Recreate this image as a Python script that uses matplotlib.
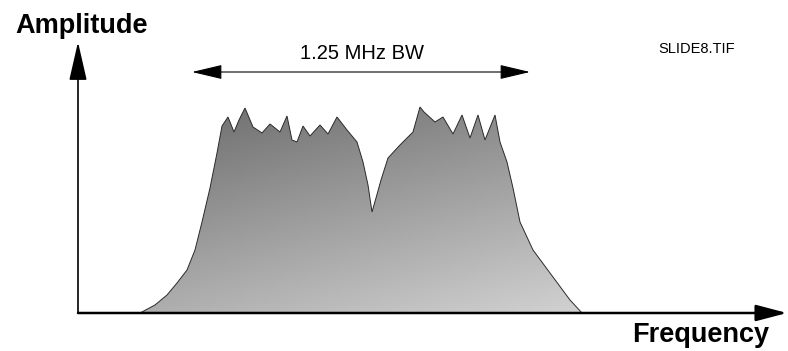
import numpy as np
import matplotlib.pyplot as plt
from matplotlib.patches import FancyArrowPatch

# spectrum outline
# freq: pixels right of the amplitude axis, amp: pixels above the baseline
freq = [62, 77, 89, 99, 109, 117, 124, 132, 139, 144, 150, 156, 161, 167, 175,
        184, 192, 202, 209, 214, 219, 225, 232, 242, 250, 259, 269, 279, 285,
        290, 294, 298, 303, 310, 322, 335, 342, 346, 357, 365, 375, 384, 392,
        400, 407, 417, 422, 429, 435, 442, 455, 472, 492, 504]
amp = [0, 8, 18, 30, 43, 63, 91, 125, 160, 187, 196, 181, 193, 205, 186,
       180, 189, 181, 197, 173, 171, 187, 177, 188, 179, 196, 183, 171, 151,
       128, 101, 115, 133, 155, 168, 181, 206, 201, 191, 196, 179, 198, 175,
       198, 173, 198, 171, 151, 125, 91, 63, 40, 13, 0]

bw_left, bw_right = 114, 452   # span of the "1.25 MHz BW" arrow
bw_label = "1.25 MHz BW"

plt.rcParams['font.family'] = ['Liberation Sans', 'DejaVu Sans']

fig = plt.figure(figsize=(7.88, 3.51), dpi=100)
ax = fig.add_axes([0, 0, 1, 1])
ax.set_xlim(-78, 710)
ax.set_ylim(-38, 313)
ax.axis('off')

# shaded spectrum: grey gradient clipped to the outline
poly, = ax.fill(freq, amp, facecolor='none', edgecolor='#2a2a2a', lw=0.7, zorder=3)
nx, ny = 200, 100
u = np.linspace(0, 1, nx)[None, :]
v = np.linspace(1, 0, ny)[:, None]
shade = 0.82 - 0.26 * v - 0.14 * (1 - u)
img = ax.imshow(shade, cmap='gray', vmin=0, vmax=1, aspect='auto',
                extent=(min(freq), max(freq), 0, max(amp)), zorder=2)
img.set_clip_path(poly)


def arrow(p0, p1, style, lw, hl, hw):
    a = FancyArrowPatch(p0, p1, arrowstyle=f'{style},head_length={hl},head_width={hw}',
                        mutation_scale=1, lw=lw, color='black',
                        shrinkA=0, shrinkB=0, zorder=4)
    ax.add_patch(a)


# axes
arrow((0, 0), (0, 271), '-|>', 1.2, 24, 5.5)
arrow((0, 0), (709, 0), '-|>', 1.8, 19, 5)
# bandwidth arrow
arrow((bw_left, 241), (bw_right, 241), '<|-|>', 0.8, 19, 4.5)

ax.text(-63, 280, 'Amplitude', fontsize=19.5, fontweight='bold',
        ha='left', va='baseline')
ax.text(554, -29, 'Frequency', fontsize=19.5, fontweight='bold',
        ha='left', va='baseline')
ax.text((bw_left + bw_right) / 2 + 1, 254, bw_label, fontsize=14.5,
        ha='center', va='baseline')
ax.text(580, 260, 'SLIDE8.TIF', fontsize=10.5, ha='left', va='baseline')

fig.savefig('out.png', dpi=100)
